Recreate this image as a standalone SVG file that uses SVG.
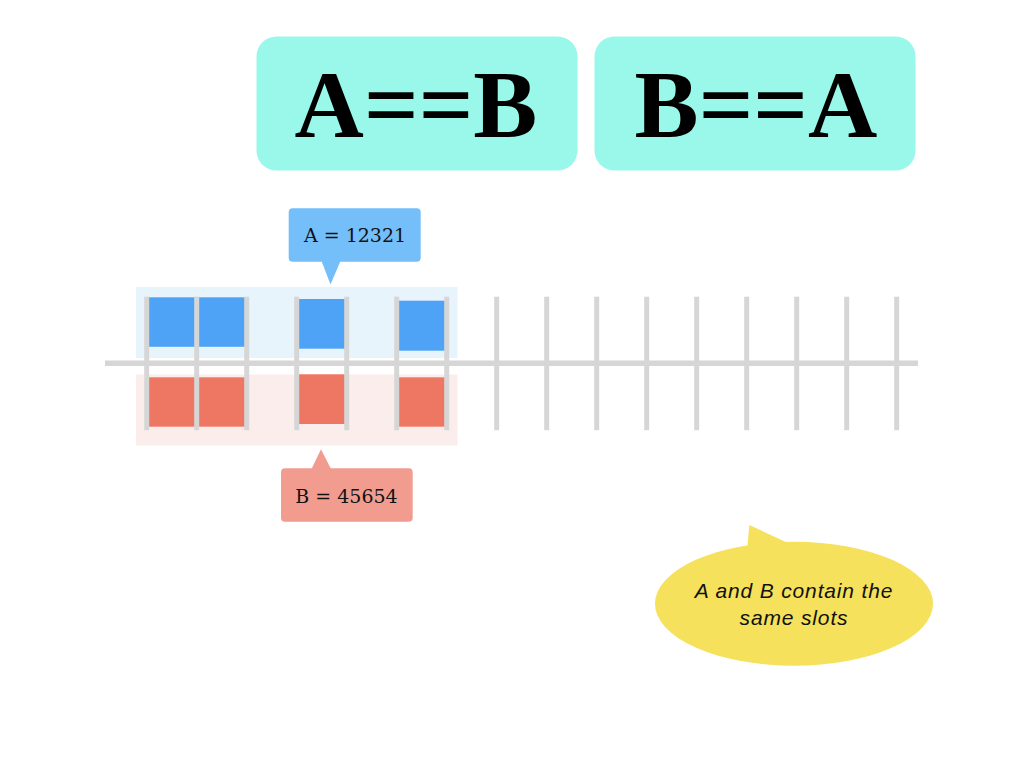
<svg xmlns="http://www.w3.org/2000/svg" width="1024" height="768" viewBox="0 0 1024 768">
<style>
.title{fill:#99F8E9}
.ttext{font-family:"Liberation Serif",serif;font-weight:bold;font-size:96px;fill:#000;text-anchor:middle}
.bar{fill:#D6D6D6}
.bsq{fill:#4FA3F7}
.rsq{fill:#EE7763}
.ctext{font-family:"DejaVu Serif",serif;font-size:19px;fill:#111;text-anchor:middle}
.note{font-family:"Liberation Sans",sans-serif;font-style:italic;font-size:21px;letter-spacing:0.85px;fill:#111;text-anchor:middle}
</style>
<rect width="1024" height="768" fill="#fff"/>
<g id="title-AB">
<rect class="title" x="256.5" y="36.5" width="321" height="134" rx="20"/>
<text class="ttext" x="416" y="136.5">A==B</text>
</g>
<g id="title-BA">
<rect class="title" x="594.5" y="36.5" width="321" height="134" rx="20"/>
<text class="ttext" x="756" y="136.5">B==A</text>
</g>
<g id="band-A"><rect x="136" y="287" width="321.5" height="71" fill="#E8F4FC"/></g>
<g id="band-B"><rect x="136" y="374.5" width="321.5" height="71" fill="#FBEDEC"/></g>
<g id="slots-A">
<rect class="bsq" x="147" y="297.3" width="50" height="49.5"/>
<rect class="bsq" x="197" y="297.3" width="50" height="49.5"/>
<rect class="bsq" x="297" y="299" width="50" height="49.7"/>
<rect class="bsq" x="397" y="300.7" width="50" height="50"/>
</g>
<g id="slots-B">
<rect class="rsq" x="147" y="377.3" width="50" height="49.4"/>
<rect class="rsq" x="197" y="377.3" width="50" height="49.4"/>
<rect class="rsq" x="297" y="374.3" width="50" height="49.7"/>
<rect class="rsq" x="397" y="377.3" width="50" height="49.4"/>
</g>
<g id="connectors">
<rect class="bar" x="105" y="360.5" width="813" height="5.5"/>
<rect class="bar" x="144.2" y="296.7" width="5" height="133.5"/>
<rect class="bar" x="194.2" y="296.7" width="5" height="133.5"/>
<rect class="bar" x="244.2" y="296.7" width="5" height="133.5"/>
<rect class="bar" x="294.2" y="296.7" width="5" height="133.5"/>
<rect class="bar" x="344.2" y="296.7" width="5" height="133.5"/>
<rect class="bar" x="394.2" y="296.7" width="5" height="133.5"/>
<rect class="bar" x="444.2" y="296.7" width="5" height="133.5"/>
<rect class="bar" x="494.2" y="296.7" width="5" height="133.5"/>
<rect class="bar" x="544.2" y="296.7" width="5" height="133.5"/>
<rect class="bar" x="594.2" y="296.7" width="5" height="133.5"/>
<rect class="bar" x="644.2" y="296.7" width="5" height="133.5"/>
<rect class="bar" x="694.2" y="296.7" width="5" height="133.5"/>
<rect class="bar" x="744.2" y="296.7" width="5" height="133.5"/>
<rect class="bar" x="794.2" y="296.7" width="5" height="133.5"/>
<rect class="bar" x="844.2" y="296.7" width="5" height="133.5"/>
<rect class="bar" x="894.2" y="296.7" width="5" height="133.5"/>
</g>
<g id="callout-A">
<rect x="288.7" y="208.3" width="132" height="53.4" rx="4" fill="#74BFFA"/>
<polygon points="321.5,261 340.5,261 330.5,284.5" fill="#74BFFA"/>
<text class="ctext" x="355" y="241.7">A = 12321</text>
</g>
<g id="callout-B">
<rect x="281" y="468.3" width="131.7" height="53.4" rx="4" fill="#F29C90"/>
<polygon points="311.5,469 331,469 321,449.3" fill="#F29C90"/>
<text class="ctext" x="346.5" y="502.7">B = 45654</text>
</g>
<g id="note">
<polygon points="747.3,548 749.3,525 788,543" fill="#F5E15B"/>
<ellipse cx="794" cy="603.7" rx="139" ry="62" fill="#F5E15B"/>
<text class="note" x="794" y="598.3">A and B contain the</text>
<text class="note" x="794" y="625">same slots</text>
</g>
</svg>
